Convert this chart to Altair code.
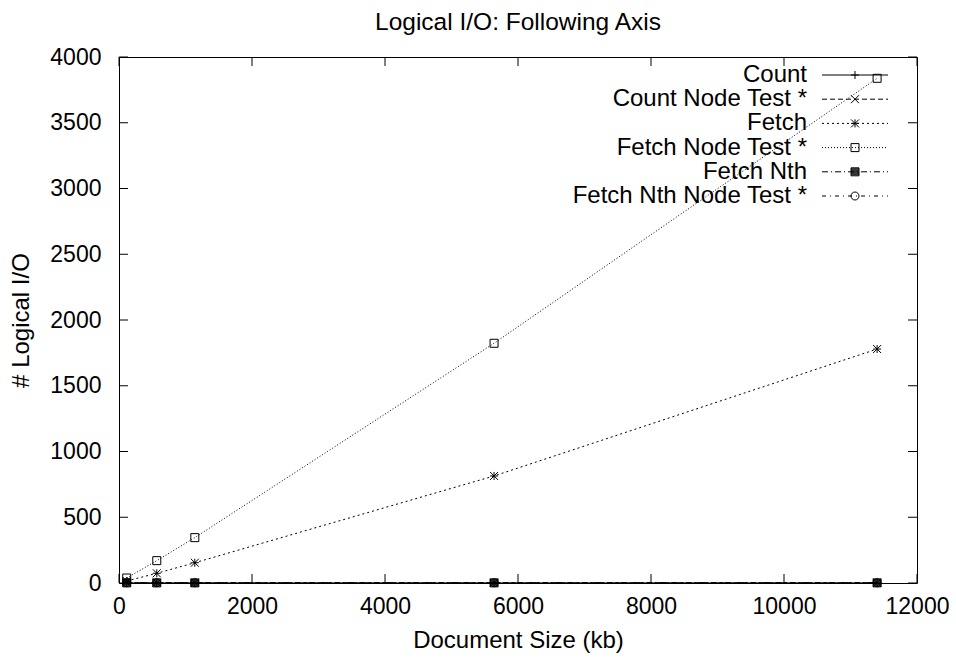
import altair as alt
import pandas as pd

# ---------------- data ----------------
series = ["Count", "Count Node Test *", "Fetch", "Fetch Node Test *",
          "Fetch Nth", "Fetch Nth Node Test *"]
doc_size_kb = [116, 568, 1140, 5640, 11400]
count = [1, 1, 1, 1, 1]
count_node_test = [2, 2, 2, 2, 2]
fetch = [15, 74, 154, 814, 1779]
fetch_node_test = [38, 170, 345, 1823, 3838]
fetch_nth = [1, 1, 1, 1, 1]
fetch_nth_node_test = [2, 2, 2, 2, 2]
x_ticks = [0, 2000, 4000, 6000, 8000, 10000, 12000]
y_ticks = [0, 500, 1000, 1500, 2000, 2500, 3000, 3500, 4000]

values = [count, count_node_test, fetch, fetch_node_test, fetch_nth, fetch_nth_node_test]
rows = []
for name, vals in zip(series, values):
    for xv, yv in zip(doc_size_kb, vals):
        rows.append({"series": name, "size": xv, "io": yv})
df = pd.DataFrame(rows)
key_df = pd.DataFrame({"series": series})
xt = pd.DataFrame({"size": x_ticks})
yt = pd.DataFrame({"io": y_ticks})

# ---------------- styles ----------------
FONT = "Liberation Sans"
W, H = 798, 526
TICK = 9

dashes = [[1, 0], [5, 3], [2, 3], [1, 2], [6, 3, 1, 3], [4, 4, 1, 4]]
plus = "M-1,0H1M0,-1V1"
cross = "M-1,-1L1,1M-1,1L1,-1"
star = plus + cross
square = "M-1,-1H1V1H-1Z"
filled_square = square + "".join(f"M-1,{v}H1" for v in (-0.75, -0.5, -0.25, 0, 0.25, 0.5, 0.75))
circle = "M-1,0A1,1,0,1,1,1,0A1,1,0,1,1,-1,0Z"
shapes = [plus, cross, star, square, filled_square, circle]

xs = alt.Scale(domain=[0, 12000], nice=False, zero=False)
ys = alt.Scale(domain=[0, 4000], nice=False)
dash_scale = alt.Scale(domain=series, range=dashes)
shape_scale = alt.Scale(domain=series, range=shapes)

x_axis = alt.Axis(
    values=x_ticks, title="Document Size (kb)", format="d",
    ticks=False, tickSize=0, domain=False, grid=False,
    labelPadding=12, labelFlush=False, labelOverlap=False, titlePadding=10)
y_axis = alt.Axis(
    values=y_ticks, title="# Logical I/O", format="d",
    ticks=False, tickSize=0, domain=False, grid=False,
    labelPadding=18, labelOverlap=False, titlePadding=16)
x_enc = alt.X("size:Q", scale=xs, axis=x_axis)
y_enc = alt.Y("io:Q", scale=ys, axis=y_axis)

lines = alt.Chart(df).mark_line(color="black", strokeWidth=1).encode(
    x=x_enc, y=y_enc,
    strokeDash=alt.StrokeDash("series:N", scale=dash_scale, legend=None),
)

points = alt.Chart(df).mark_point(
    filled=False, size=64, strokeWidth=1, color="black", opacity=1
).encode(
    x=x_enc, y=y_enc,
    shape=alt.Shape("series:N", scale=shape_scale, legend=None),
)

tick_style = dict(color="black", strokeWidth=1)
bottom_ticks = alt.Chart(xt).mark_rule(**tick_style).encode(
    x=x_enc, y=alt.value(H), y2=alt.value(H - TICK))
top_ticks = alt.Chart(xt).mark_rule(**tick_style).encode(
    x=x_enc, y=alt.value(0), y2=alt.value(TICK))
left_ticks = alt.Chart(yt).mark_rule(**tick_style).encode(
    y=y_enc, x=alt.value(0), x2=alt.value(TICK))
right_ticks = alt.Chart(yt).mark_rule(**tick_style).encode(
    y=y_enc, x=alt.value(W), x2=alt.value(W - TICK))

plot = alt.layer(lines, points, bottom_ticks, top_ticks, left_ticks, right_ticks)

# ---------------- key (gnuplot style: label, then line sample with marker) ----------------
key_y = alt.Y("series:N",
              scale=alt.Scale(type="point", domain=series, range=[18, 139], padding=0),
              axis=None)
key_text = alt.Chart(key_df).mark_text(
    align="right", baseline="middle", font=FONT, fontSize=24, color="black"
).encode(x=alt.value(688), y=key_y, text="series:N")
key_line = alt.Chart(key_df).mark_rule(color="black", strokeWidth=1).encode(
    x=alt.value(703), x2=alt.value(769), y=key_y,
    strokeDash=alt.StrokeDash("series:N", scale=dash_scale, legend=None))
key_mark = alt.Chart(key_df).mark_point(
    filled=False, size=64, strokeWidth=1, color="black", opacity=1
).encode(x=alt.value(736), y=key_y,
         shape=alt.Shape("series:N", scale=shape_scale, legend=None))
key = alt.layer(key_line, key_mark, key_text)

chart = alt.layer(plot, key).resolve_scale(y="independent").properties(
    width=W, height=H,
    background="white",
    autosize=alt.AutoSizeParams(type="none"),
    padding={"left": 119, "top": 57, "right": 39, "bottom": 79},
    title=alt.TitleParams("Logical I/O: Following Axis", font=FONT, fontSize=24.5,
                          fontWeight="normal", anchor="middle", color="black", offset=11),
).configure_view(
    stroke="black", strokeWidth=1
).configure_axis(
    labelFont=FONT, labelFontSize=23, labelColor="black",
    titleFont=FONT, titleFontSize=24, titleFontWeight="normal", titleColor="black",
)

chart.save("out.html", embed_options={"renderer": "svg", "actions": False})
